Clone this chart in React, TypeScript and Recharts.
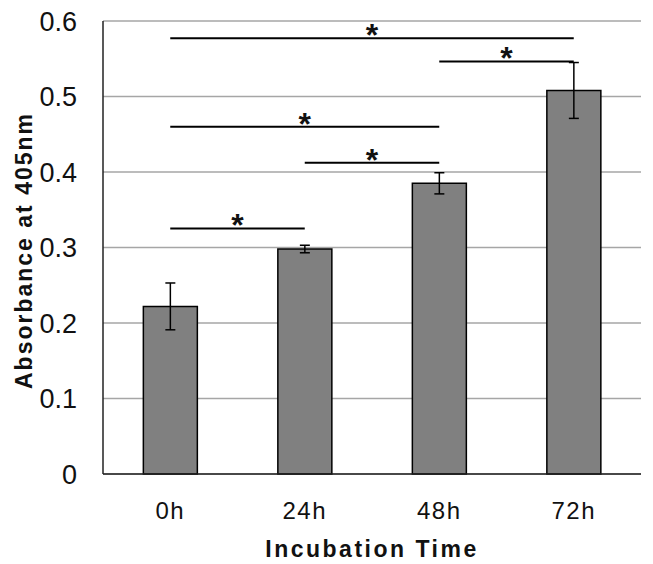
import { BarChart, Bar, XAxis, YAxis, CartesianGrid, ErrorBar, ReferenceLine, Label } from "recharts";

const times = ["0h", "24h", "48h", "72h"];
const absorbance = [0.222, 0.298, 0.385, 0.508];
const errors = [0.031, 0.005, 0.014, 0.037];
const yTicks = [0, 0.1, 0.2, 0.3, 0.4, 0.5, 0.6];

// significance brackets: from / to category, height in absorbance units
const bracketFrom = ["0h", "48h", "0h", "24h", "0h"];
const bracketTo = ["72h", "72h", "48h", "48h", "24h"];
const bracketY = [0.577, 0.5465, 0.46, 0.4123, 0.3253];

const data = times.map((t, i) => ({ time: t, value: absorbance[i], err: errors[i] }));

const font = "'Liberation Sans', Arial, sans-serif";

const YLabel = (props: any) => {
  const { x, y, height } = props.viewBox;
  const cx = x + 24;
  const cy = y + height / 2 + 3;
  return (
    <text
      x={cx}
      y={cy}
      transform={`rotate(-90 ${cx} ${cy})`}
      textAnchor="middle"
      dominantBaseline="central"
      fontFamily={font}
      fontWeight="bold"
      fontSize={23}
      letterSpacing={2}
      fill="#111"
    >
      Absorbance at 405nm
    </text>
  );
};

export default function App() {
  return (
    <div style={{ position: "absolute", left: 0, top: 0, background: "#fff" }}>
      <BarChart
        width={653}
        height={564}
        data={data}
        margin={{ top: 21, right: 12, bottom: 0, left: 0 }}
        barCategoryGap="30%"
      >
        <CartesianGrid vertical={false} stroke="#a6a6a6" strokeWidth={1.5} />
        <XAxis
          dataKey="time"
          height={90}
          tickLine={false}
          tickSize={0}
          tickMargin={28}
          axisLine={{ stroke: "#222", strokeWidth: 1.5 }}
          tick={{ fill: "#111", fontSize: 24, fontFamily: font, letterSpacing: 1.5 }}
        >
          <Label
            value="Incubation Time"
            position="insideBottom"
            offset={7}
            fill="#111"
            fontSize={23}
            fontWeight="bold"
            fontFamily={font}
            letterSpacing={2.5}
          />
        </XAxis>
        <YAxis
          width={103}
          domain={[0, 0.6]}
          ticks={yTicks}
          interval={0}
          tickFormatter={(v: number) => (v === 0 ? "0" : v.toFixed(1))}
          tickLine={false}
          tickSize={0}
          tickMargin={26}
          axisLine={{ stroke: "#222", strokeWidth: 1.5 }}
          tick={{ fill: "#111", fontSize: 27, fontFamily: font }}
        >
          <Label content={<YLabel />} />
        </YAxis>
        <Bar dataKey="value" fill="#808080" stroke="#000" strokeWidth={1.5} isAnimationActive={false}>
          <ErrorBar dataKey="err" width={5} stroke="#000" strokeWidth={1.5} />
        </Bar>
        {bracketY.map((y, i) => (
          <ReferenceLine
            key={i}
            segment={[
              { x: bracketFrom[i], y },
              { x: bracketTo[i], y },
            ]}
            stroke="#000"
            strokeWidth={2}
            ifOverflow="visible"
            label={{ value: "*", position: "top", offset: -8, fontSize: 32, fontWeight: "bold", fill: "#111", fontFamily: font }}
          />
        ))}
      </BarChart>
    </div>
  );
}
